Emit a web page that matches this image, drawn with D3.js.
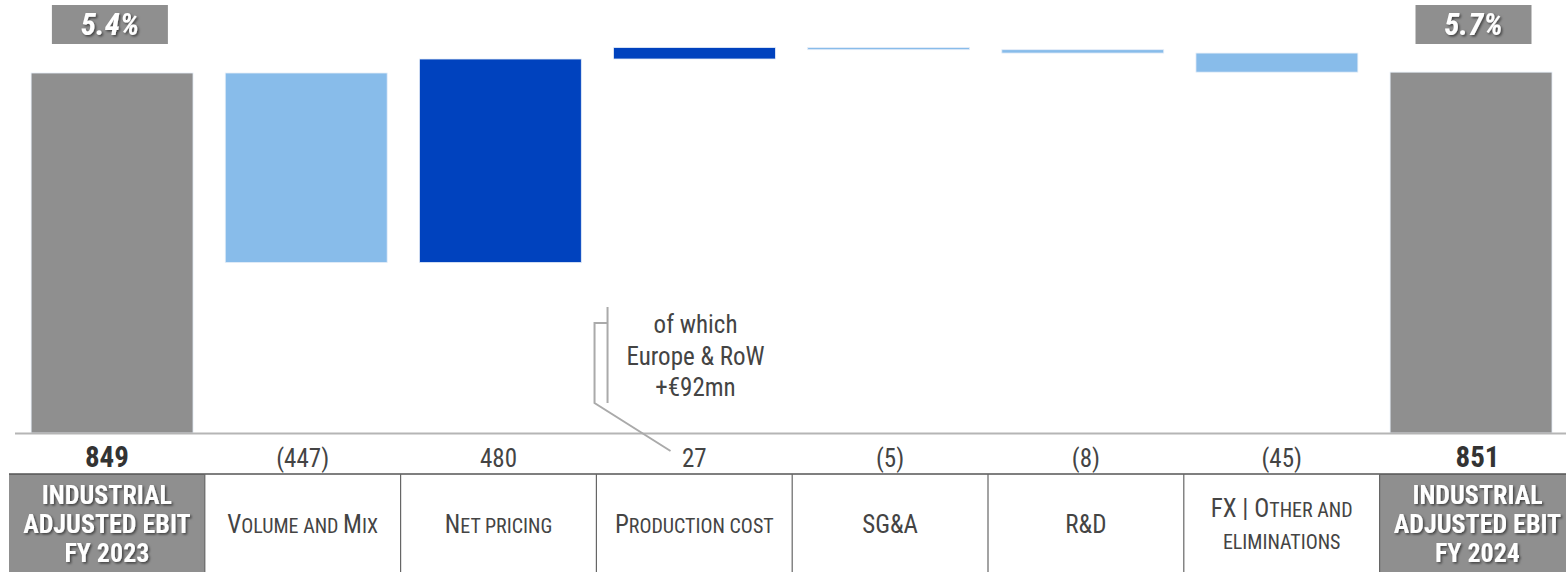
<!DOCTYPE html>
<html>
<head>
<meta charset="utf-8">
<script src="https://cdn.jsdelivr.net/npm/d3@7"></script>
<style>
  body { margin: 0; background: #fff; }
  text { font-family: 'Liberation Sans Narrow', 'Arial Narrow', 'Roboto Condensed', 'Liberation Sans', sans-serif; }
</style>
</head>
<body>
<svg width="1566" height="572"></svg>
<script>
// data
const categories = ['start', 'volume', 'pricing', 'production', 'sga', 'rnd', 'fx', 'end'];
const deltas = [849, -447, 480, 27, -5, -8, -45, 851];
const kinds = ['total', 'neg', 'pos', 'pos', 'neg', 'neg', 'neg', 'total'];
const valueLabels = ['849', '(447)', '480', '27', '(5)', '(8)', '(45)', '851'];
// each label line is a list of [text, big?] pieces
const catLabels = [
  [[['INDUSTRIAL', true]], [['ADJUSTED EBIT', true]], [['FY 2023', true]]],
  [[['V', true], ['OLUME AND ', false], ['M', true], ['IX', false]]],
  [[['N', true], ['ET PRICING', false]]],
  [[['P', true], ['RODUCTION COST', false]]],
  [[['SG&A', true]]],
  [[['R&D', true]]],
  [[['FX | O', true], ['THER AND', false]], [['ELIMINATIONS', false]]],
  [[['INDUSTRIAL', true]], [['ADJUSTED EBIT', true]], [['FY 2024', true]]]
];
const margins = ['5.4%', '5.7%'];
const noteLines = ['of which', 'Europe & RoW', '+€92mn'];

const colors = { total: '#8f8f8f', neg: '#88bcea', pos: '#0042be' };

const svg = d3.select('svg');

const defs = svg.append('defs');
const f = defs.append('filter').attr('id', 'shadow').attr('x', '-10%').attr('y', '-10%').attr('width', '130%').attr('height', '140%');
f.append('feDropShadow').attr('dx', 1.5).attr('dy', 1.5).attr('stdDeviation', 0.8)
  .attr('flood-color', '#000').attr('flood-opacity', 0.55);

// compute waterfall
let run = 0;
const steps = deltas.map((d, i) => {
  if (kinds[i] === 'total') {
    run = d;
    return { key: categories[i], kind: kinds[i], y0: 0, y1: d };
  }
  const s = { key: categories[i], kind: kinds[i], y0: run, y1: run + d };
  run += d;
  return s;
});

const y = d3.scaleLinear().domain([0, 849]).range([433, 73]);
const xBar = d3.scaleBand().domain(categories).range([15, 15 + 8 * 194.14]).paddingInner(0.166).paddingOuter(0.083);
const xCell = d3.scaleBand().domain(categories).range([9, 9 + 8 * 195.8]);

// bars
svg.append('g').selectAll('rect').data(steps).join('rect')
  .attr('x', d => xBar(d.key))
  .attr('width', xBar.bandwidth())
  .attr('y', d => y(Math.max(d.y0, d.y1)))
  .attr('height', d => Math.max(1.5, Math.abs(y(d.y0) - y(d.y1))))
  .attr('fill', d => colors[d.kind])
  .attr('stroke', '#e6eef8').attr('stroke-width', 0.8);

// baseline
svg.append('line').attr('x1', 15).attr('x2', 1566).attr('y1', y(0) + 0.5).attr('y2', y(0) + 0.5)
  .attr('stroke', '#b5b5b5').attr('stroke-width', 2);

// margin boxes
const ends = [categories[0], categories[7]];
ends.forEach((k, i) => {
  const cx = xCell(k) + xCell.bandwidth() / 2 + (i === 0 ? 3 : -4);
  svg.append('rect').attr('x', cx - 58).attr('y', 5).attr('width', 116).attr('height', 39).attr('fill', '#8f8f8f');
  svg.append('text').attr('x', cx).attr('y', 35).attr('text-anchor', 'middle')
    .attr('font-size', 31).attr('font-weight', 'bold').attr('font-style', 'italic')
    .attr('fill', '#fff').attr('filter', 'url(#shadow)').text(margins[i]);
});

// value labels
svg.append('g').selectAll('text').data(steps).join('text')
  .attr('x', d => xCell(d.key) + xCell.bandwidth() / 2)
  .attr('y', 467)
  .attr('text-anchor', 'middle')
  .attr('font-size', d => d.kind === 'total' ? 29 : 25)
  .attr('font-weight', d => d.kind === 'total' ? 'bold' : 'normal')
  .attr('fill', d => d.kind === 'total' ? '#333' : '#444')
  .text((d, i) => valueLabels[i]);

// category cells
const cellTop = 474, cellBottom = 572;
const cells = svg.append('g').selectAll('g').data(steps).join('g');
cells.filter(d => d.kind === 'total').append('rect')
  .attr('x', d => xCell(d.key)).attr('width', xCell.bandwidth())
  .attr('y', cellTop).attr('height', cellBottom - cellTop).attr('fill', '#8f8f8f');
svg.append('line').attr('x1', 9).attr('x2', 1566).attr('y1', cellTop).attr('y2', cellTop)
  .attr('stroke', '#555').attr('stroke-width', 1.5);
svg.append('g').selectAll('line').data(categories.slice(1)).join('line')
  .attr('x1', d => xCell(d)).attr('x2', d => xCell(d))
  .attr('y1', cellTop).attr('y2', cellBottom)
  .attr('stroke', '#666').attr('stroke-width', 1.2);

cells.each(function (d, i) {
  const g = d3.select(this);
  const lines = catLabels[i];
  const cx = xCell(d.key) + xCell.bandwidth() / 2;
  const total = d.kind === 'total';
  const lh = total ? 29 : 32;
  const mid = (cellTop + cellBottom) / 2 + 1;
  lines.forEach((parts, li) => {
    const yy = mid + (li - (lines.length - 1) / 2) * lh + 9;
    const t = g.append('text').attr('x', cx).attr('y', yy).attr('text-anchor', 'middle')
      .attr('fill', total ? '#fff' : '#444')
      .attr('font-weight', total ? 'bold' : 'normal');
    if (total) t.attr('filter', 'url(#shadow)');
    parts.forEach(p => {
      t.append('tspan').attr('font-size', total ? 26 : (p[1] ? 25 : 20)).text(p[0]);
    });
  });
});

// annotation for production cost
const px = xBar('production');
svg.append('path')
  .attr('d', `M${px - 6},307 V403 M${px - 6},323 H${px - 19} V403 L${px + 57},451`)
  .attr('fill', 'none').attr('stroke', '#aaa').attr('stroke-width', 2);
svg.append('g').selectAll('text').data(noteLines).join('text')
  .attr('x', px + 82).attr('y', (d, i) => 333 + i * 31.5)
  .attr('text-anchor', 'middle').attr('font-size', 25).attr('fill', '#444')
  .text(d => d);
</script>
</body>
</html>
